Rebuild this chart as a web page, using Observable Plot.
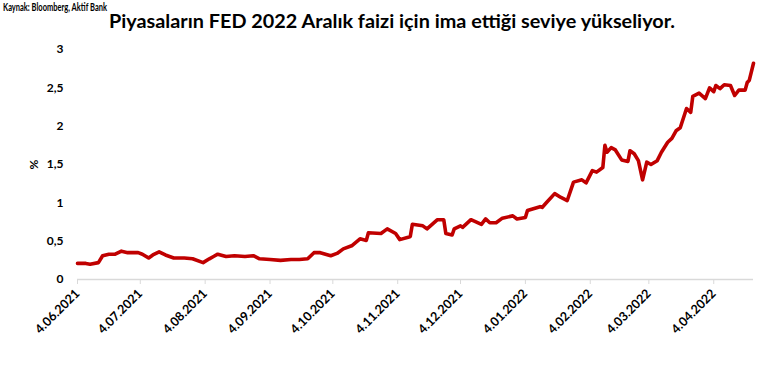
<!DOCTYPE html>
<html>
<head>
<meta charset="utf-8">
<script src="https://cdn.jsdelivr.net/npm/d3@7"></script>
<script src="https://cdn.jsdelivr.net/npm/@observablehq/plot@0.6"></script>
<style>
  html, body { margin: 0; padding: 0; background: #fff; }
  #chart { position: relative; width: 779px; height: 369px; }
</style>
</head>
<body>
<div id="chart"></div>
<script>
const titleText = "Piyasaların FED 2022 Aralık faizi için ima ettiği seviye yükseliyor.";
const sourceText = "Kaynak: Bloomberg, Aktif Bank";
const yLabel = "%";

const yTicks = [0, 0.5, 1, 1.5, 2, 2.5, 3];
const xTicks = ["2021-06-04","2021-07-04","2021-08-04","2021-09-04","2021-10-04","2021-11-04",
                "2021-12-04","2022-01-04","2022-02-04","2022-03-04","2022-04-04"];
const xDomain = ["2021-06-04", "2022-04-23"];

const dates = [
"2021-06-04","2021-06-08","2021-06-10","2021-06-14","2021-06-16","2021-06-19","2021-06-22","2021-06-25","2021-06-28",
"2021-07-03","2021-07-05","2021-07-08","2021-07-10","2021-07-13","2021-07-16","2021-07-20","2021-07-25","2021-07-29",
"2021-08-03","2021-08-06","2021-08-08","2021-08-10","2021-08-14","2021-08-18","2021-08-23","2021-08-27","2021-08-30",
"2021-09-04","2021-09-09","2021-09-14","2021-09-18","2021-09-22","2021-09-25","2021-09-28",
"2021-10-03","2021-10-06","2021-10-09","2021-10-13","2021-10-17","2021-10-20","2021-10-21","2021-10-27","2021-10-30",
"2021-11-03","2021-11-05","2021-11-09","2021-11-10","2021-11-11","2021-11-16","2021-11-18","2021-11-23","2021-11-26","2021-11-27","2021-11-30",
"2021-12-01","2021-12-04","2021-12-05","2021-12-09","2021-12-14","2021-12-16","2021-12-18","2021-12-21","2021-12-24","2021-12-29","2021-12-31",
"2022-01-04","2022-01-05","2022-01-11","2022-01-12","2022-01-14","2022-01-18","2022-01-21","2022-01-24","2022-01-27","2022-01-31",
"2022-02-02","2022-02-05","2022-02-07","2022-02-10","2022-02-11","2022-02-12","2022-02-14","2022-02-16","2022-02-19","2022-02-22","2022-02-23","2022-02-25","2022-02-27",
"2022-03-01","2022-03-03","2022-03-05","2022-03-08","2022-03-10","2022-03-13","2022-03-15","2022-03-17","2022-03-19","2022-03-22","2022-03-24","2022-03-25","2022-03-28","2022-03-31",
"2022-04-02","2022-04-04","2022-04-05","2022-04-07","2022-04-09","2022-04-12","2022-04-14","2022-04-16","2022-04-19","2022-04-20","2022-04-21","2022-04-23"
];
const values = [
0.21,0.21,0.20,0.22,0.31,0.33,0.33,0.37,0.35,
0.35,0.33,0.28,0.32,0.36,0.32,0.28,0.28,0.27,
0.22,0.27,0.30,0.33,0.30,0.31,0.30,0.31,0.27,
0.26,0.25,0.26,0.26,0.27,0.35,0.35,
0.31,0.34,0.40,0.44,0.53,0.51,0.61,0.60,0.66,
0.60,0.52,0.55,0.56,0.72,0.70,0.66,0.78,0.78,0.60,0.58,
0.66,0.70,0.68,0.78,0.72,0.79,0.74,0.74,0.80,0.83,0.79,
0.81,0.90,0.95,0.94,1.00,1.12,1.07,1.03,1.27,1.30,
1.26,1.42,1.40,1.46,1.75,1.66,1.72,1.69,1.56,1.54,1.68,1.64,1.55,
1.30,1.53,1.50,1.55,1.66,1.79,1.84,1.94,1.98,2.23,2.18,2.39,2.43,2.36,
2.50,2.45,2.53,2.49,2.54,2.53,2.40,2.47,2.47,2.57,2.60,2.82
];

const data = dates.map((d, i) => ({date: new Date(d + "T00:00:00Z"), value: values[i]}));
const fmtDate = d3.utcFormat("%-d.%m.%Y");
const fmtNum = d => String(d).replace(".", ",");

const svg = Plot.plot({
  width: 779,
  height: 369,
  marginTop: 49,
  marginBottom: 90,
  marginLeft: 77,
  marginRight: 26,
  style: {fontFamily: "Lato, 'Open Sans', sans-serif", fontWeight: "bold", color: "#000", background: "#fff", overflow: "visible"},
  x: {type: "utc", domain: xDomain.map(d => new Date(d + "T00:00:00Z"))},
  y: {domain: [0, 3]},
  marks: [
    Plot.ruleY([0], {stroke: "#d9d9d9", strokeWidth: 1.5}),
    Plot.axisY({ticks: yTicks, tickFormat: fmtNum, tickSize: 0, tickPadding: 14, fontSize: 12,
                label: yLabel, labelAnchor: "center", labelArrow: "none", labelOffset: 48}),
    Plot.axisX({ticks: xTicks.map(d => new Date(d + "T00:00:00Z")), tickFormat: fmtDate, tickSize: 5,
                tickRotate: -45, tickPadding: 7, fontSize: 12.5, stroke: "#d9d9d9", fill: "#000", label: null}),
    Plot.line(data, {x: "date", y: "value", stroke: "#C00000", strokeWidth: 3.6, strokeLinejoin: "round", strokeLinecap: "round"})
  ]
});

const s = d3.select(svg);
s.append("text")
  .attr("x", 392).attr("y", 28)
  .attr("text-anchor", "middle")
  .attr("font-size", 18.5).attr("font-weight", "bold").attr("fill", "#000")
  .attr("textLength", 566).attr("lengthAdjust", "spacingAndGlyphs")
  .text(titleText);
s.append("text")
  .attr("x", 3).attr("y", 11)
  .attr("text-anchor", "start")
  .attr("font-size", 10.5).attr("font-weight", "bold").attr("fill", "#000")
  .attr("textLength", 104).attr("lengthAdjust", "spacingAndGlyphs")
  .text(sourceText);

document.getElementById("chart").appendChild(svg);
</script>
</body>
</html>
